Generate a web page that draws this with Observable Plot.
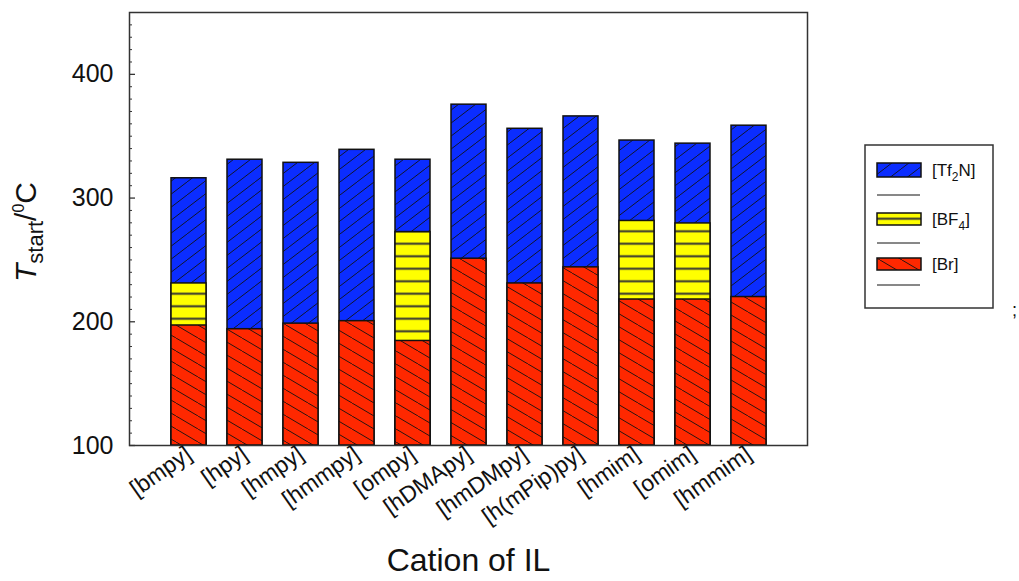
<!DOCTYPE html>
<html><head><meta charset="utf-8">
<script src="https://cdn.jsdelivr.net/npm/d3@7"></script>
<script src="https://cdn.jsdelivr.net/npm/@observablehq/plot@0.6"></script>
<style>body{margin:0;background:#fff;} #chart{width:1019px;height:581px;}</style>
</head><body><div id="chart"></div>
<script>
// ---- data ----
const cations = ["[bmpy]","[hpy]","[hmpy]","[hmmpy]","[ompy]","[hDMApy]","[hmDMpy]","[h(mPip)py]","[hmim]","[omim]","[hmmim]"];
const tf2n = [316, 331, 328.5, 339, 331, 375.5, 356, 366, 346.5, 344, 358.5];
const bf4  = [231, null, null, null, 272.5, null, null, null, 281.5, 279.5, null];
const br   = [197, 194, 198.5, 200.5, 184.5, 251, 231, 244, 218, 218, 220];
const yMajorTicks = [100, 200, 300, 400];
const yMinorTicks = [110,120,130,140,150,160,170,180,190,210,220,230,240,250,260,270,280,290,310,320,330,340,350,360,370,380,390,410,420,430,440];
const anions = ["Tf2N", "BF4", "Br"];

// ---- layout ----
const W = 1019, H = 581, mL = 129, mR = 212, mT = 12, mB = 136;
const plotW = W - mL - mR;
const FONT = "'Liberation Sans', Arial, Helvetica, sans-serif";

const rows = (vals, series) => cations.map((c, i) => ({cation: c, value: vals[i], series})).filter(d => d.value != null);

const barOpts = {x: "cation", y1: 100, y2: "value", stroke: "#111", strokeWidth: 1.5};

const chart = Plot.plot({
  width: W, height: H,
  marginLeft: mL, marginRight: mR, marginTop: mT, marginBottom: mB,
  style: {fontFamily: FONT, background: "#fff", color: "#111", overflow: "visible"},
  x: {domain: cations, paddingInner: 0.38, paddingOuter: 0.69, label: null},
  y: {domain: [100, 450], label: null},
  marks: [
    Plot.barY(rows(tf2n, "Tf2N"), {...barOpts, fill: "url(#pTf2N)"}),
    Plot.barY(rows(bf4, "BF4"), {...barOpts, fill: "url(#pBF4)"}),
    Plot.barY(rows(br, "Br"), {...barOpts, fill: "url(#pBr)"}),
    Plot.ruleY(yMinorTicks, {insetRight: plotW - 3, stroke: "#333", strokeWidth: 1}),
    Plot.ruleY(yMajorTicks, {insetRight: plotW - 6, stroke: "#333", strokeWidth: 1.3}),
    Plot.frame({stroke: "#333", strokeWidth: 1.5}),
    Plot.axisY({ticks: yMajorTicks, tickSize: 0, tickPadding: 16, fontSize: 25, label: null}),
    Plot.axisX({tickSize: 0, tickRotate: -35, tickPadding: 6, fontSize: 23, label: null}),
    Plot.text(["Cation of IL"], {frameAnchor: "bottom", dy: 125, text: d => d, fontSize: 32, fill: "#111"})
  ]
});
document.getElementById("chart").appendChild(chart);

// ---- patterns ----
const svg = d3.select(chart);
const defs = svg.insert("defs", ":first-child");
function hatch(id, bg, w, h, path, sw, color) {
  const p = defs.append("pattern").attr("id", id).attr("patternUnits", "userSpaceOnUse")
    .attr("width", w).attr("height", h);
  p.append("rect").attr("width", w).attr("height", h).attr("fill", bg);
  p.append("path").attr("d", path).attr("stroke", color).attr("stroke-width", sw).attr("fill", "none");
}
hatch("pTf2N", "#0b2dff", 17, 13, "M0,13 L17,0 M-1,1 L1,-1 M16,14 L18,12", 0.9, "#111");
hatch("pBF4", "#ffff00", 10, 12.5, "M0,6.25 L10,6.25", 2, "#333");
hatch("pBr", "#ff2800", 22, 13, "M0,0 L22,13 M-2,12 L1,14 M21,-1 L24,1", 0.9, "#111");

// ---- y-axis title ----
const yt = svg.append("text")
  .attr("transform", "translate(36,232) rotate(-90)")
  .attr("text-anchor", "middle")
  .attr("font-family", FONT).attr("fill", "#111").attr("font-size", 30);
yt.append("tspan").attr("font-style", "italic").text("T");
yt.append("tspan").attr("font-size", 22).attr("dy", 7).text("start");
yt.append("tspan").attr("dy", -7).text("/");
yt.append("tspan").attr("font-size", 16).attr("dy", -12).text("0");
yt.append("tspan").attr("dy", 12).text("C");

// ---- legend ----
const lg = svg.append("g").attr("font-family", FONT).attr("fill", "#111").attr("text-anchor", "start");
lg.append("rect").attr("x", 865).attr("y", 145).attr("width", 128).attr("height", 163)
  .attr("fill", "#fff").attr("stroke", "#333").attr("stroke-width", 1.5);
const items = [
  {name: anions[0], fill: "url(#pTf2N)", y: 163, h: 14, lineY: 195},
  {name: anions[1], fill: "url(#pBF4)", y: 213, h: 12, lineY: 243},
  {name: anions[2], fill: "url(#pBr)", y: 258, h: 12, lineY: 285}
];
items.forEach(it => {
  lg.append("rect").attr("x", 877).attr("y", it.y).attr("width", 44).attr("height", it.h)
    .attr("fill", it.fill).attr("stroke", "#111").attr("stroke-width", 1.5);
  lg.append("line").attr("x1", 877).attr("x2", 920).attr("y1", it.lineY).attr("y2", it.lineY)
    .attr("stroke", "#111").attr("stroke-width", 1);
  const t = lg.append("text").attr("x", 932).attr("y", it.y + it.h / 2 + 6).attr("font-size", 17);
  const m = it.name.match(/^([A-Za-z]+?)(\d?)([A-Za-z]*)$/);
  t.append("tspan").text("[" + m[1]);
  if (m[2]) t.append("tspan").attr("font-size", 12).attr("dy", 5).text(m[2]);
  t.append("tspan").attr("dy", m[2] ? -5 : 0).text(m[3] + "]");
});
svg.append("text").attr("x", 1012).attr("y", 316).attr("font-family", FONT).attr("font-size", 18).attr("fill", "#111").attr("text-anchor", "start").text(";");
</script>
</body></html>
